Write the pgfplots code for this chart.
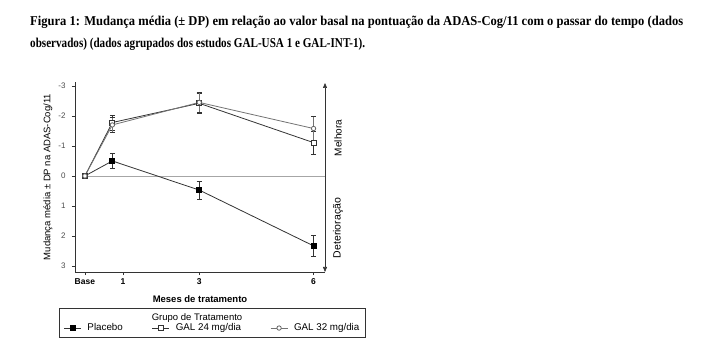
\documentclass[border=0pt]{standalone}
\usepackage{pgfplots}
\pgfplotsset{compat=1.18}
\usepackage{fontspec}
\setmainfont{Liberation Sans}
\newfontfamily\titlefont{Liberation Serif}
\usetikzlibrary{arrows.meta}
\definecolor{ink}{gray}{0.2}
\begin{document}
\begin{tikzpicture}
\useasboundingbox (0,0) rectangle (707pt,353pt);
\node[anchor=base west, inner sep=0] at (30pt,327pt) {\resizebox{653pt}{\height}{\titlefont\bfseries\fontsize{13.5}{15}\selectfont Figura 1: Mudança média (± DP) em relação ao valor basal na pontuação da ADAS-Cog/11 com o passar do tempo (dados}};
\node[anchor=base west, inner sep=0] at (30pt,305pt) {\resizebox{335pt}{\height}{\titlefont\bfseries\fontsize{13.5}{15}\selectfont observados) (dados agrupados dos estudos GAL-USA 1 e GAL-INT-1).}};
\begin{axis}[
  at={(75pt,81pt)}, anchor=south west, scale only axis,
  width=250pt, height=190pt,
  xmin=-0.26, xmax=6.3, ymin=-3.13, ymax=3.2, y dir=reverse,
  axis x line*=bottom, axis y line*=left,
  axis line style={draw=ink, line width=0.6pt},
  xtick={0,1,3,6}, xticklabels={Base,1,3,6},
  ytick={-3,-2,-1,0,1,2,3},
  tick align=outside, major tick length=3pt,
  tick style={draw=ink},
  /pgf/number format/assume math mode=true,
  yticklabel style={font=\fontsize{8}{9}\selectfont, text=black!70, xshift=-3pt},
  xticklabel style={font=\bfseries\fontsize{8.5}{9}\selectfont},
  xlabel={Meses de tratamento},
  ylabel={Mudança média ± DP na ADAS-Cog/11},
  xlabel style={font=\bfseries\fontsize{9.5}{10}\selectfont, yshift=-4pt},
  ylabel style={font=\fontsize{9.5}{10}\selectfont, yshift=-1pt},
  clip=false,
  legend columns=3,
  legend style={draw=none, fill=none, at={(0.55,-0.295)}, anchor=center,
    font=\fontsize{9.8}{10}\selectfont, inner sep=0pt,
    /tikz/every odd column/.append style={column sep=4pt},
    /tikz/every even column/.append style={column sep=27pt}},
  legend cell align=left,
  every axis plot/.append style={line width=0.8pt},
]
\draw[black!35, line width=0.5pt] (axis cs:0,0) -- (axis cs:6.3,0);
\addplot[ink, mark=square*, mark size=2.5pt, mark options={fill=black, draw=black},
  error bars/.cd, y dir=both, y explicit, error mark options={rotate=90, mark size=2.5pt, ink}]
  table[y error=e] {
x y e
0 0 0
0.72 -0.5 0.25
3 0.47 0.3
6 2.33 0.36
};
\addlegendentry{Placebo}
\addplot[ink, mark=square*, mark size=2.5pt, mark options={fill=white, draw=ink},
  error bars/.cd, y dir=both, y explicit, error mark options={rotate=90, mark size=2.5pt, ink}]
  table[y error=e] {
x y e
0 0 0
0.72 -1.78 0.25
3 -2.42 0.33
6 -1.11 0.37
};
\addlegendentry{GAL 24 mg/dia}
\addplot[black!55, mark=*, mark size=2.2pt, mark options={fill=white, draw=black!60},
  error bars/.cd, y dir=both, y explicit, error mark options={rotate=90, mark size=2.5pt, ink}]
  table[y error=e] {
x y e
0 0 0
0.72 -1.7 0.25
3 -2.45 0.33
6 -1.58 0.4
};
\addlegendentry{GAL 32 mg/dia}
\end{axis}
\draw[ink, line width=0.6pt, {Triangle[length=5pt,width=4pt]}-{Triangle[length=5pt,width=4pt]}] (325pt,270pt) -- (325pt,81pt);
\node[rotate=90, font=\fontsize{10}{11}\selectfont] at (338pt,215pt) {Melhora};
\node[rotate=90, font=\fontsize{10.5}{11}\selectfont] at (338pt,125pt) {Deterioração};
\draw[ink, line width=0.6pt] (59pt,45pt) rectangle (365pt,16pt);
\node[font=\fontsize{9.5}{10}\selectfont] at (197pt,35pt) {Grupo de Tratamento};
\end{tikzpicture}
\end{document}
